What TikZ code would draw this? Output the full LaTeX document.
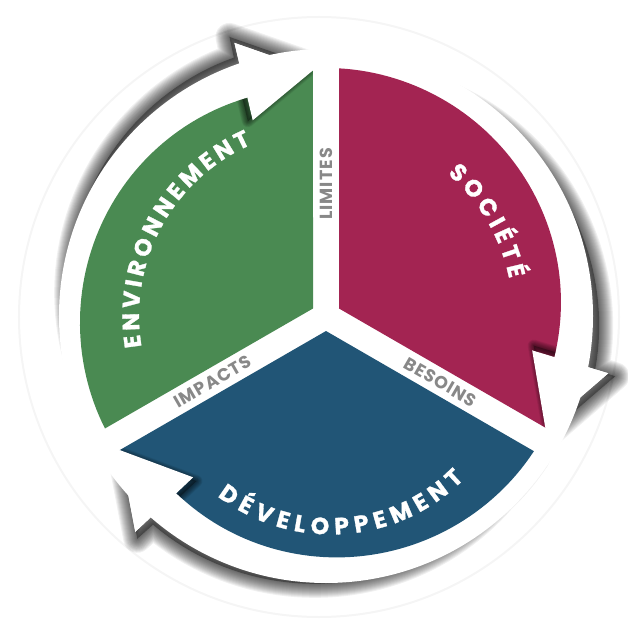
\documentclass[tikz,border=0pt]{standalone}
\usepackage{fontspec}
\setmainfont{Poppins}
\newfontfamily\bigfont{Poppins}[BoldFeatures={FakeBold=1.2}]
\newfontfamily\smallfont{Poppins}[LetterSpace=6]
\definecolor{envgreen}{HTML}{4A8A52}
\definecolor{socmag}{HTML}{A32452}
\definecolor{devblue}{HTML}{215576}
\definecolor{lblgray}{HTML}{888888}

\newcommand\bigsel{\bigfont\bfseries\fontsize{23.5}{25}\selectfont}
\newcommand\smallsel{\smallfont\bfseries\fontsize{17.5}{18}\selectfont}

% angles of one arrow / sector, from the gap ray at its clockwise end
\newcommand\setarrow[1]{%
  \pgfmathsetmacro\aTip{#1+3.03}%
  \pgfmathsetmacro\aIB{#1+20.53}%
  \pgfmathsetmacro\aOB{#1+18.53}%
  \pgfmathsetmacro\aIN{#1+20}%
  \pgfmathsetmacro\aON{#1+19.06}%
  \pgfmathsetmacro\aEnd{#1+116.97}%
  \pgfmathsetmacro\aMid{#1+60}%
  \pgfmathsetmacro\hx{5*cos(#1+102)}%
  \pgfmathsetmacro\hy{5*sin(#1+102)}}

\def\sectorpath{(\aMid:15.01) -- (\aTip:246) -- (\aIN:232)
  -- plot[domain=\aIN:\aEnd, samples=60, variable=\t]
     (\t:{248-16*(max(0.001,min(1,(\aEnd-\t)/96.97)))^1.6}) -- cycle}
\def\headpath{(\aTip:246) -- (\aIB:209) -- (\aOB:288) -- cycle}
\def\arrowpath{(\aTip:246) -- (\aIB:209) -- (\aIN:232)
  -- plot[domain=\aIN:\aEnd, samples=50, variable=\t]
     (\t:{248-16*(max(0.001,min(1,(\aEnd-\t)/96.97)))^1.6})
  -- plot[domain=\aEnd:\aON, samples=50, variable=\t]
     (\t:{267-24*(max(0.001,min(1,(\t-\aON)/97.91)))^1.5})
  -- (\aOB:288) -- cycle}

% soft shadow of an arrow, shifted by (#1,#2)
\newcommand\castshadow[2]{%
  \begin{scope}[shift={(#1,#2)}]
    \fill[black, opacity=0.35] \arrowpath;
    \foreach \k in {1,...,14}{\draw[black, opacity=0.06, line width=\k*2pt, line join=round] \arrowpath;}
  \end{scope}}
% shadow of a head onto its own sector
\newcommand\headshadow{%
  \begin{scope}
    \clip \sectorpath;
    \begin{scope}[shift={(\hx,\hy)}]
      \fill[black, opacity=0.3] \headpath;
      \foreach \k in {1,...,8}{\draw[black, opacity=0.07, line width=\k*1.5pt, line join=round] \headpath;}
    \end{scope}
  \end{scope}}

% letter widths, measured once outside the picture
\newdimen\awdim
\newsavebox\awbox
\newcommand\measureletters[1]{%
  \foreach \awl in {#1}{%
    \sbox\awbox{\bigsel\awl}\global\awdim=\wd\awbox
    \expandafter\xdef\csname aw@\awl\endcsname{\the\awdim}}}
\AtBeginDocument{\measureletters{E,N,V,I,R,O,M,T,S,C,É,D,L,P}}

% #1 centre angle, #2 baseline radius, #3 direction (1 ccw, -1 cw), #4 length, #5 letters
\newcommand\arcword[5]{%
  \xdef\awsum{0}\xdef\awn{0}%
  \foreach \awl in {#5}{%
    \pgfmathsetmacro\awtmp{\awsum+\csname aw@\awl\endcsname}\xdef\awsum{\awtmp}%
    \pgfmathtruncatemacro\awtmp{\awn+1}\xdef\awn{\awtmp}%
  }%
  \pgfmathsetmacro\awtrack{max(2,(#4-\awsum)/(\awn-1))}\xdef\awtrack{\awtrack}%
  \pgfmathsetmacro\awtot{\awsum+(\awn-1)*\awtrack}%
  \pgfmathsetmacro\awcur{#1-(#3)*(\awtot/2)/(#2)*180/pi}\xdef\awcur{\awcur}%
  \foreach \awl in {#5}{%
    \pgfmathsetmacro\aww{\csname aw@\awl\endcsname}%
    \pgfmathsetmacro\awa{\awcur+(#3)*(\aww/2)/(#2)*180/pi}%
    \node[bigtxt, rotate={\awa+(#3)*90}] at (\awa:#2) {\bigsel\awl};
    \pgfmathsetmacro\awtmp{\awcur+(#3)*(\aww+\awtrack)/(#2)*180/pi}\xdef\awcur{\awtmp}%
  }%
}

\begin{document}
\begin{tikzpicture}[x=1pt,y=1pt,
  bigtxt/.style={text=white, inner sep=0pt, anchor=base},
  smalltxt/.style={font=\smallsel, text=lblgray, inner sep=0pt},
]
\useasboundingbox (-326,-318) rectangle (302,316);
\draw[black!4, line width=2pt] (-7,-1) circle (300pt);

% cast shadows of the three arrows
\setarrow{90}\castshadow{-5}{6}
\setarrow{-30}\castshadow{7}{-3}
\setarrow{210}\castshadow{2}{-7}

% white ring and heads
\fill[white] (0,0) circle (267pt);
\setarrow{90}\fill[white] \headpath;
\setarrow{-30}\fill[white] \headpath;
\setarrow{210}\fill[white] \headpath;

% sectors
\setarrow{90}\fill[envgreen] \sectorpath;
\setarrow{-30}\fill[socmag] \sectorpath;
\setarrow{210}\fill[devblue] \sectorpath;

% shadows of the heads on the sectors, then the heads
\setarrow{90}\headshadow
\setarrow{-30}\headshadow
\setarrow{210}\headshadow
\setarrow{90}\fill[white] \headpath;
\setarrow{-30}\fill[white] \headpath;
\setarrow{210}\fill[white] \headpath;

% labels in the gaps
\node[smalltxt, rotate=90] (limites) at (90:132) {LIMITES};
\node[smalltxt, rotate=30] (impacts) at (210:131) {IMPACTS};
\node[smalltxt, rotate=-30] (besoins) at (330:132) {BESOINS};

% curved labels
\arcword{151.5}{187}{-1}{248}{E,N,V,I,R,O,N,N,E,M,E,N,T}
\arcword{30.5}{187}{-1}{124}{S,O,C,I,É,T,É}
\begin{scope}[shift={(5,-31)}]
\arcword{274}{187.5}{1}{270}{D,É,V,E,L,O,P,P,E,M,E,N,T}
\end{scope}
\end{tikzpicture}
\end{document}
